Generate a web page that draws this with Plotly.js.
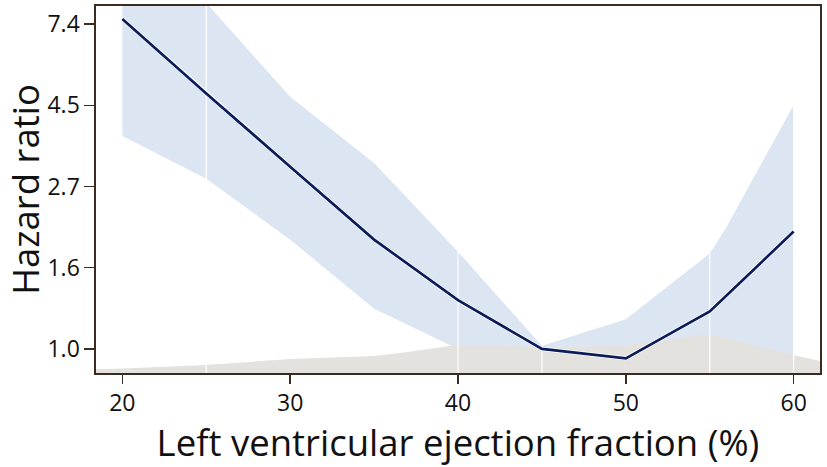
<!DOCTYPE html>
<html>
<head>
<meta charset="utf-8">
<script src="https://cdn.plot.ly/plotly-3.0.1.min.js"></script>
<style>html,body{margin:0;padding:0;background:#fff;}#chart{width:827px;height:467px;}</style>
</head>
<body>
<div id="chart"></div>
<script>
// LVEF (%) grid for the hazard-ratio curve
const lvef = [20, 25, 30, 35, 40, 45, 50, 55, 60];
const hazardRatio = [7.62, 4.82, 3.07, 1.96, 1.35, 1.00, 0.944, 1.26, 2.06];
// 95% CI bounds
const upperX = [20, 25, 30, 35, 40, 45, 50, 55, 56, 60];
const upperCI = [15.0, 8.4, 4.72, 3.14, 1.82, 1.02, 1.20, 1.80, 2.12, 4.49];
const lowerX = [20, 25, 30, 35, 40, 45, 50, 55, 60];
const lowerCI = [3.71, 2.85, 1.96, 1.28, 1.00, 0.99, 0.72, 0.86, 0.90];
// distribution of LVEF (scaled density drawn along the bottom)
const densX = [18.43, 20, 25, 30, 33, 35, 37, 39.5, 42, 45, 48, 50, 52, 54.5, 56, 57.5, 60, 61.57];
const densY = [0.883, 0.887, 0.906, 0.940, 0.950, 0.958, 0.982, 1.018, 1.018, 1.012, 1.015, 1.025, 1.05, 1.09, 1.077, 1.025, 0.964, 0.929];
// seams visible in the shaded band
const seamX = [25, 40, 45, 55, 60];
// axis ticks
const xTicks = [20, 30, 40, 50, 60];
const yTickVals = [1.0, 1.6487, 2.7183, 4.4817, 7.3891];
const yTickText = ['1.0', '1.6', '2.7', '4.5', '7.4'];

const xRange = [18.43, 61.57];
const yRange = [Math.log10(Math.exp(-0.148)), Math.log10(Math.exp(2.111))];
const yFloor = Math.pow(10, yRange[0] - 0.05);
const yTop = Math.pow(10, yRange[1] + 0.05);

function interp(xs, ys, x) {
  for (let i = 0; i < xs.length - 1; i++) {
    if (x >= xs[i] && x <= xs[i + 1]) {
      const t = (x - xs[i]) / (xs[i + 1] - xs[i]);
      return Math.exp(Math.log(ys[i]) + t * (Math.log(ys[i + 1]) - Math.log(ys[i])));
    }
  }
  return ys[ys.length - 1];
}

const traces = [];
// CI band
traces.push({
  x: upperX.concat(lowerX.slice().reverse()),
  y: upperCI.concat(lowerCI.slice().reverse()),
  type: 'scatter', mode: 'lines', fill: 'toself',
  fillcolor: '#dce6f3', line: {width: 0, color: 'rgba(0,0,0,0)'},
  hoverinfo: 'skip', showlegend: false
});
// density
traces.push({
  x: densX.concat([densX[densX.length - 1], densX[0]]),
  y: densY.concat([yFloor, yFloor]),
  type: 'scatter', mode: 'lines', fill: 'toself',
  fillcolor: '#e4e2de', line: {width: 0, color: 'rgba(0,0,0,0)'},
  hoverinfo: 'skip', showlegend: false
});
// seams
seamX.forEach(function (sx) {
  traces.push({
    x: [sx, sx], y: [yFloor, Math.min(interp(upperX, upperCI, sx), yTop)],
    type: 'scatter', mode: 'lines', line: {color: '#ffffff', width: 1.2},
    hoverinfo: 'skip', showlegend: false
  });
});
// curve: white halo + navy line
traces.push({
  x: lvef, y: hazardRatio, type: 'scatter', mode: 'lines',
  line: {color: '#ffffff', width: 4.2}, hoverinfo: 'skip', showlegend: false
});
traces.push({
  x: lvef, y: hazardRatio, type: 'scatter', mode: 'lines',
  line: {color: '#0c1c58', width: 2.7}, showlegend: false
});

const axisColor = '#3a2c20';
const layout = {
  width: 827, height: 467,
  margin: {l: 96, r: 7, t: 6, b: 94},
  paper_bgcolor: '#ffffff', plot_bgcolor: '#ffffff',
  font: {family: '"Open Sans", "Noto Sans", sans-serif', color: '#111111'},
  showlegend: false,
  xaxis: {
    range: xRange, tickvals: xTicks, ticks: 'outside', ticklen: 9, tickwidth: 1.5,
    tickcolor: axisColor, showline: true, linecolor: axisColor, linewidth: 1.6, mirror: true,
    showgrid: false, zeroline: false,
    tickfont: {size: 23, color: '#111111'},
    title: {text: 'Left ventricular ejection fraction (%)', font: {size: 36.5, color: '#111111'}, standoff: 8}
  },
  yaxis: {
    type: 'log', range: yRange, tickvals: yTickVals, ticktext: yTickText,
    ticks: 'outside', ticklen: 10, tickwidth: 1.5, tickcolor: axisColor,
    showline: true, linecolor: axisColor, linewidth: 1.6, mirror: true,
    showgrid: false, zeroline: false, automargin: true,
    tickfont: {size: 23, color: '#111111'},
    title: {text: 'Hazard ratio', font: {size: 36.5, color: '#111111'}, standoff: 10}
  }
};

Plotly.newPlot('chart', traces, layout, {displayModeBar: false, staticPlot: true});
</script>
</body>
</html>
